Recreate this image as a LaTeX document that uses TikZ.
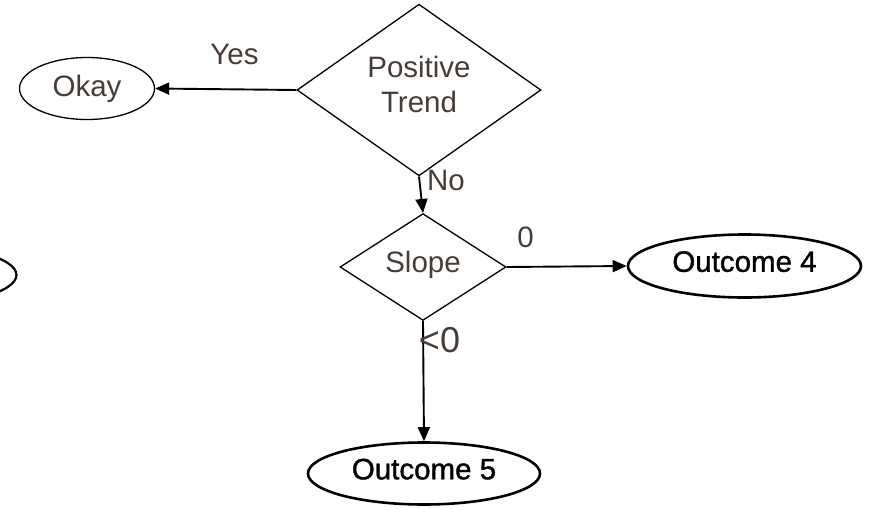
\documentclass[tikz,border=0pt]{standalone}
\usepackage{fontspec}
\setmainfont{Liberation Sans}
\newfontfamily\outcomefont[FakeBold=1.2]{Liberation Sans}
\usetikzlibrary{shapes.geometric,arrows.meta}
\definecolor{txt}{RGB}{72,60,56}
\begin{document}
\begin{tikzpicture}[x=1pt,y=-1pt,
  every node/.style={font=\fontsize{29.5}{35}\selectfont, text=txt, inner sep=0pt},
  dec/.style={diamond, draw, line width=1.3pt, align=center},
  term/.style={ellipse, draw, line width=1.3pt},
  outcome/.style={ellipse, draw, line width=2.6pt, text=black, text depth=9pt,
    font=\outcomefont\fontsize{29.5}{35}\selectfont},
  flow/.style={draw, line width=1.9pt, -{Triangle[length=14pt,width=12pt]}},
  lbl/.style={anchor=base}]
\useasboundingbox (0,0) rectangle (871,509);

% decisions
\node[dec, minimum width=244pt, minimum height=165pt, text depth=12pt] (pt) at (419,90) {Positive\\Trend};
\node[dec, minimum width=166pt, minimum height=81pt, text depth=10pt] (slope) at (423,267) {Slope};

% terminals
\node[term, minimum width=135pt, minimum height=62pt] (okay) at (87,88.5) {Okay};
\node[outcome, minimum width=233pt, minimum height=63pt] (o4) at (744.5,266) {Outcome 4};
\node[outcome, minimum width=232pt, minimum height=62pt] (o5) at (424,473.5) {Outcome 5};

% terminal running off the left edge
\begin{scope}
  \clip (0,0) rectangle (871,509);
  \node[outcome, line width=2.2pt, minimum width=233pt, minimum height=63pt] (o3) at (-100,275) {};
\end{scope}

% connectors
\draw[flow] (pt.west) -- (okay.east);
\draw[flow] (pt.south) -- (slope.north);
\draw[flow] (slope.east) -- (o4.west);
\draw[flow] (slope.south) -- (o5.north);

% branch labels
\node[lbl] (yes) at (234.5,64) {Yes};
\node[lbl] (no) at (446,190) {No};
\node[lbl] (zero) at (525.5,247) {0};
\node[lbl, font=\fontsize{36}{40}\selectfont] (neg) at (439.5,352) {<0};
\end{tikzpicture}
\end{document}
